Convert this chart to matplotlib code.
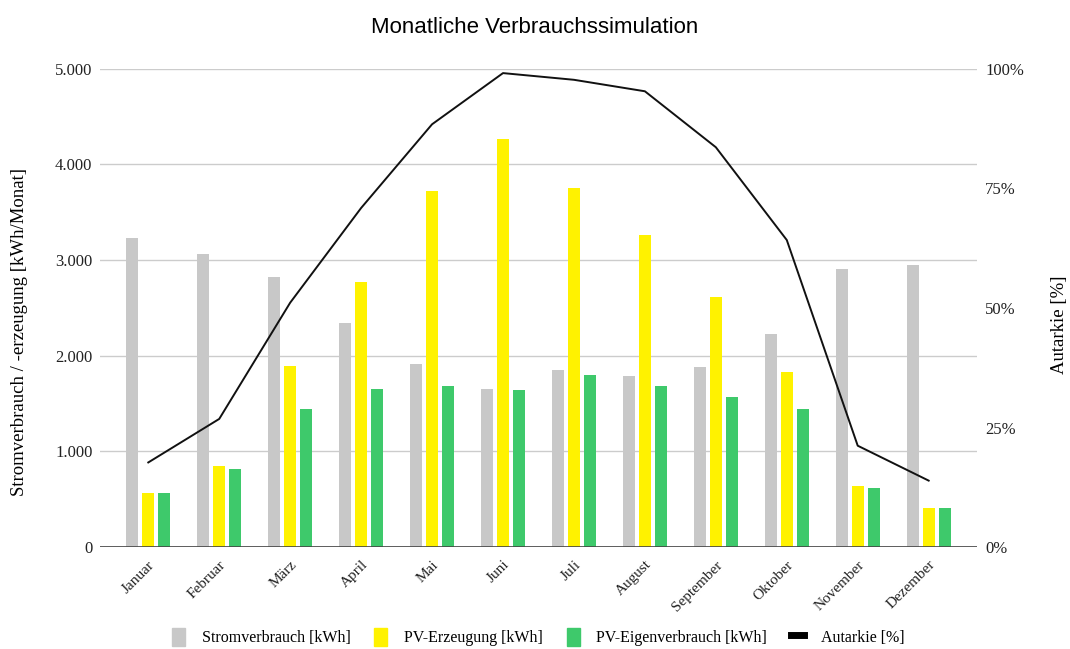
import numpy as np
import matplotlib.pyplot as plt
from matplotlib.patches import Patch
from matplotlib.lines import Line2D
from matplotlib.ticker import FuncFormatter

monate = ['Januar', 'Februar', 'März', 'April', 'Mai', 'Juni', 'Juli',
          'August', 'September', 'Oktober', 'November', 'Dezember']
verbrauch = [3232, 3065, 2824, 2343, 1917, 1653, 1851, 1789, 1880, 2225, 2905, 2950]
erzeugung = [568, 847, 1897, 2769, 3724, 4265, 3759, 3264, 2618, 1834, 638, 405]
eigenverbrauch = [568, 816, 1440, 1650, 1688, 1639, 1799, 1688, 1566, 1440, 620, 405]
autarkie = [17.7, 26.8, 51.1, 70.9, 88.4, 99.1, 97.7, 95.3, 83.6, 64.2, 21.2, 13.9]

c_grau = '#c8c8c8'
c_gelb = '#fff200'
c_gruen = '#3ec96b'

plt.rcParams['font.family'] = ['Liberation Serif', 'DejaVu Serif']

fig = plt.figure(figsize=(10.70, 6.49), dpi=100)
ax = fig.add_axes([0.0935, 0.157, 0.8195, 0.737])
x = np.arange(len(monate))
w = 0.17
d = 0.225

ax.bar(x - d, verbrauch, w, color=c_grau, zorder=2)
ax.bar(x, erzeugung, w, color=c_gelb, zorder=2)
ax.bar(x + d, eigenverbrauch, w, color=c_gruen, zorder=2)

ax.set_xlim(-0.68, 11.68)
ax.set_ylim(0, 5000)
ax.set_yticks([0, 1000, 2000, 3000, 4000, 5000])
ax.yaxis.set_major_formatter(FuncFormatter(lambda v, p: f'{int(v):,}'.replace(',', '.')))
ax.grid(axis='y', color='#cccccc', lw=1, zorder=0)
ax.axhline(0, color='#444444', lw=1.2, zorder=3)
for s in ax.spines.values():
    s.set_visible(False)
ax.tick_params(length=0, colors='#222222')
ax.tick_params(axis='y', pad=5.5, labelsize=12)
ax.set_xticks(x)
ax.set_xticklabels(monate, rotation=45, ha='right', rotation_mode='anchor')
ax.tick_params(axis='x', pad=8, labelsize=11)
ax.set_ylabel('Stromverbrauch / -erzeugung [kWh/Monat]', fontsize=13.5)
ax.yaxis.set_label_coords(-0.082, 0.45)

ax2 = ax.twinx()
ax2.plot(x, autarkie, color='#111111', lw=1.4, zorder=4)
ax2.set_ylim(0, 100)
ax2.set_yticks([0, 25, 50, 75, 100])
ax2.set_yticklabels(['0%', '25%', '50%', '75%', '100%'])
for s in ax2.spines.values():
    s.set_visible(False)
ax2.tick_params(length=0, labelsize=12, colors='#222222', pad=6)
ax2.set_ylabel('Autarkie [%]', fontsize=13.5)
ax2.yaxis.set_label_coords(1.085, 0.464)

fig.suptitle('Monatliche Verbrauchssimulation', fontfamily='Liberation Sans',
             fontsize=16, y=0.974)

handles = [Patch(color=c_grau), Patch(color=c_gelb), Patch(color=c_gruen),
           Line2D([0], [0], color='black', lw=5)]
labels = ['Stromverbrauch [kWh]', 'PV-Erzeugung [kWh]',
          'PV-Eigenverbrauch [kWh]', 'Autarkie [%]']
fig.legend(handles, labels, loc='center', bbox_to_anchor=(0.503, 0.018), ncol=4,
           frameon=False, fontsize=11.5, handlelength=0.8, handleheight=1.3,
           columnspacing=1.5, handletextpad=1.05)

fig.savefig('out.png', dpi=100)
